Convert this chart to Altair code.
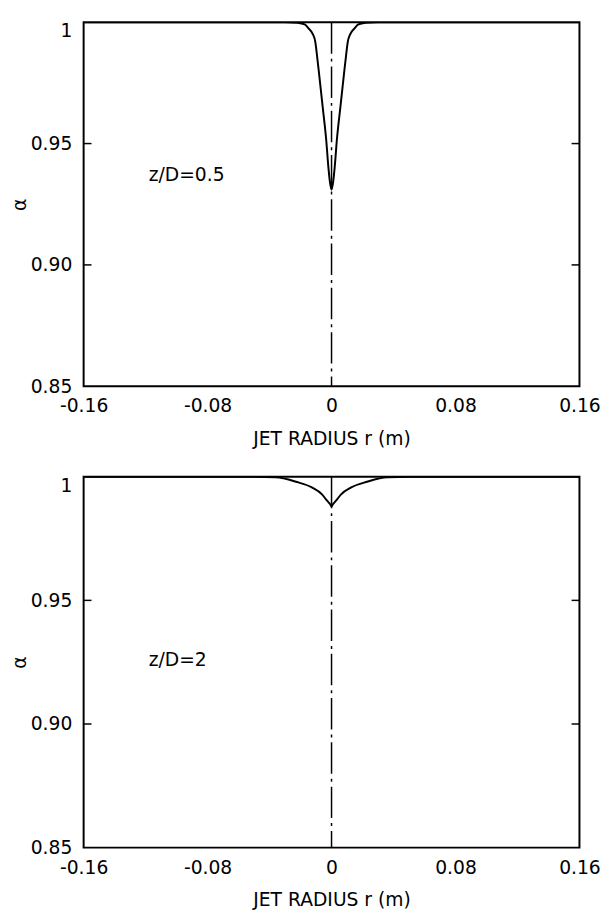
import altair as alt
import pandas as pd

# ---- data ----
r_top = [-0.16, -0.03, -0.022, -0.017, -0.015, -0.012, -0.0105, -0.0095, -0.008,
         -0.0057, -0.0035, -0.002, -0.001, 0.0, 0.001, 0.002, 0.0035, 0.0057,
         0.008, 0.0095, 0.0105, 0.012, 0.015, 0.017, 0.022, 0.03, 0.16]
a_top = [1.0, 1.0, 0.9998, 0.9990, 0.9976, 0.9950, 0.9920, 0.9870, 0.9785,
         0.9650, 0.9520, 0.9400, 0.9340, 0.9310, 0.9340, 0.9400, 0.9520, 0.9650,
         0.9785, 0.9870, 0.9920, 0.9950, 0.9976, 0.9990, 0.9998, 1.0, 1.0]

r_bot = [-0.16, -0.05, -0.036, -0.023, -0.0127, -0.006, -0.0029, -0.0008, 0.0,
         0.0008, 0.0029, 0.006, 0.0127, 0.023, 0.036, 0.05, 0.16]
a_bot = [1.0, 1.0, 0.9998, 0.9980, 0.9957, 0.9928, 0.9903, 0.9888, 0.9880,
         0.9888, 0.9903, 0.9928, 0.9957, 0.9980, 0.9998, 1.0, 1.0]

x_ticks = [-0.16, -0.08, 0, 0.08, 0.16]
y_ticks = [0.85, 0.90, 0.95, 1.0]
inner_y_ticks = [0.90, 0.95]
panel_labels = ["z/D=0.5", "z/D=2"]
label_r = [-0.118, -0.118]
label_a = [0.937, 0.926]

W = 504
H_TOP = 370
H_BOT = 377
FONT = "DejaVu Sans"
FS = 19

x_label_expr = "datum.value == 0 ? '0' : (datum.value < 0 ? '-' : '') + format(abs(datum.value), '.2f')"
y_label_expr = "datum.value == 1 ? '1' : format(datum.value, '.2f')"


def panel(r, a, label, lr, la, h):
    curve_df = pd.DataFrame({"r": r, "alpha": a})
    xscale = alt.Scale(domain=[-0.16, 0.16], nice=False, zero=False)
    yscale = alt.Scale(domain=[0.85, 1.0], nice=False, zero=False)
    xenc = alt.X(
        "r:Q", scale=xscale,
        axis=alt.Axis(values=x_ticks, labelExpr=x_label_expr, title="JET RADIUS r (m)",
                      grid=False, ticks=False, tickSize=0, domain=False,
                      labelPadding=11, titlePadding=14, labelFlush=False),
    )
    yenc = alt.Y(
        "alpha:Q", scale=yscale,
        axis=alt.Axis(values=y_ticks, labelExpr=y_label_expr, title="α",
                      grid=False, ticks=False, tickSize=0, domain=False,
                      labelPadding=12, labelFlush=False,
                      titleX=-55, titleY=h / 2,
                      labelBaseline={"condition": {"test": "datum.value == 1", "value": "top"},
                                     "value": "middle"}),
    )
    line = alt.Chart(curve_df).mark_line(
        color="black", strokeWidth=2, interpolate="monotone", clip=True
    ).encode(x=xenc, y=yenc)

    center = alt.Chart(pd.DataFrame({"r": [0.0]})).mark_rule(
        color="black", strokeWidth=1.5, strokeDash=[32, 5, 3, 5]
    ).encode(x="r:Q", y=alt.value(0), y2=alt.value(h))

    ticks_df = pd.DataFrame({"alpha": inner_y_ticks})
    lticks = alt.Chart(ticks_df).mark_rule(color="black", strokeWidth=1.5).encode(
        y="alpha:Q", x=alt.value(0), x2=alt.value(8))
    rticks = alt.Chart(ticks_df).mark_rule(color="black", strokeWidth=1.5).encode(
        y="alpha:Q", x=alt.value(W), x2=alt.value(W - 8))

    text = alt.Chart(pd.DataFrame({"r": [lr], "alpha": [la], "label": [label]})).mark_text(
        align="left", baseline="middle", fontSize=FS, font=FONT, color="black"
    ).encode(x="r:Q", y="alpha:Q", text="label:N")

    return alt.layer(line, center, lticks, rticks, text).properties(width=W, height=h)


top = panel(r_top, a_top, panel_labels[0], label_r[0], label_a[0], H_TOP)
bot = panel(r_bot, a_bot, panel_labels[1], label_r[1], label_a[1], H_BOT)

chart = alt.vconcat(top, bot, spacing=92, bounds="flush").properties(
    padding={"left": 10, "top": 13, "right": 5, "bottom": 5}
).configure_view(
    stroke="black", strokeWidth=2
).configure_axis(
    labelFont=FONT, titleFont=FONT, labelFontSize=FS, titleFontSize=FS,
    labelColor="black", titleColor="black", titleFontWeight="normal"
)

chart.save("out.html", embed_options={"renderer": "svg", "actions": False})
